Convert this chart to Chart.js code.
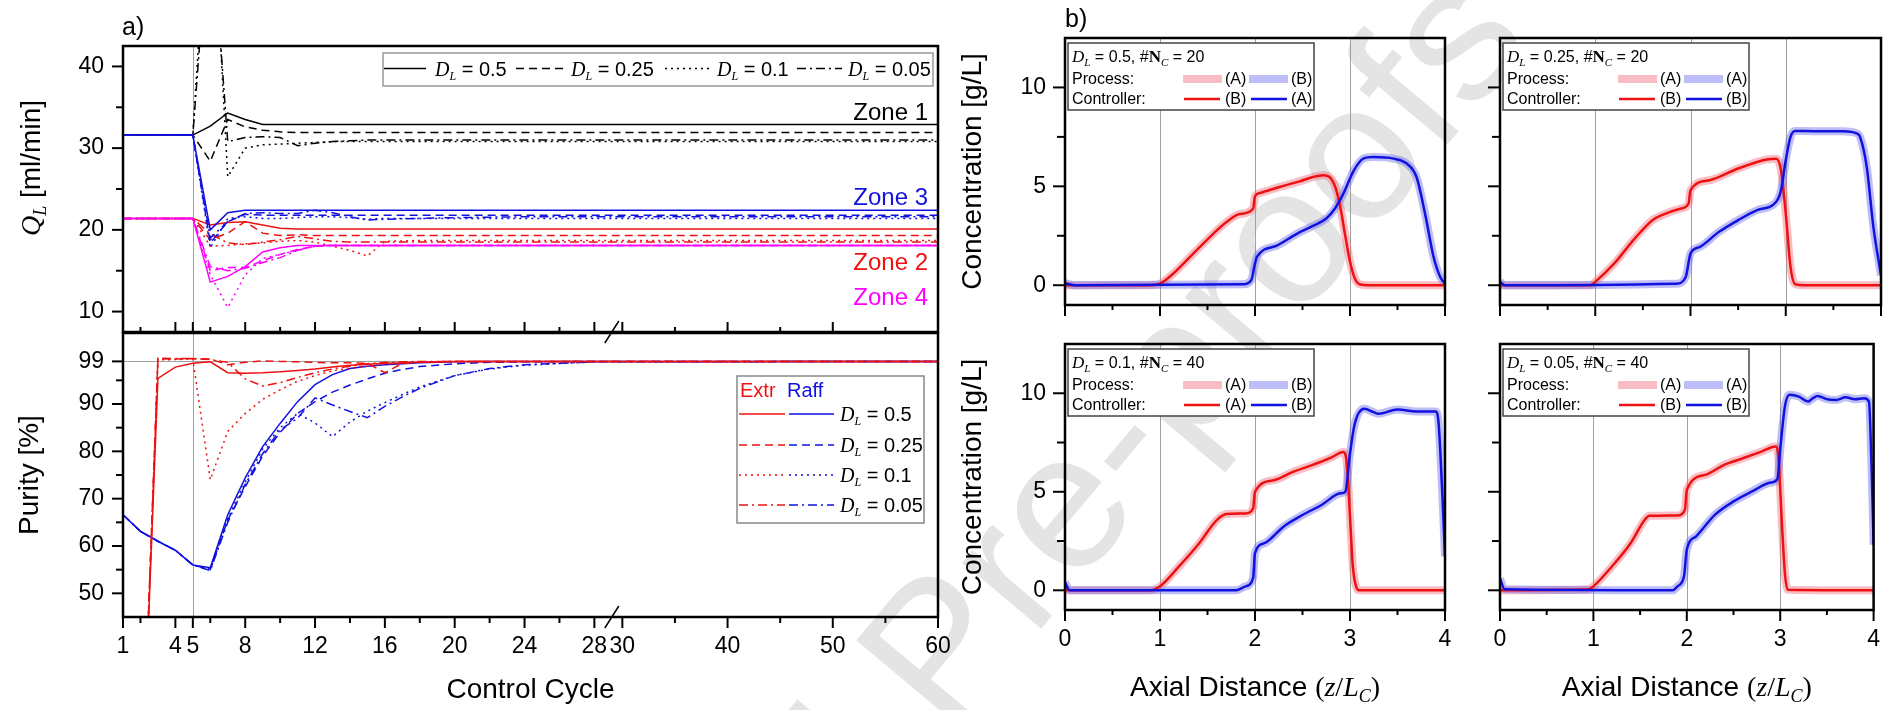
<!DOCTYPE html>
<html>
<head>
<meta charset="utf-8">
<script src="https://cdn.jsdelivr.net/npm/chart.js@4.4.1/dist/chart.umd.min.js"></script>
<style>
  body { margin: 0; background: #fff; }
  #wrap { position: relative; width: 1896px; height: 710px; overflow: hidden; background: #fff; }
  #wrap canvas { position: absolute; left: 0; top: 0; }
</style>
</head>
<body>
<div id="wrap">
  <canvas id="wm" width="1896" height="710"></canvas>
  <canvas id="cQ" width="1896" height="710"></canvas>
  <canvas id="cP" width="1896" height="710"></canvas>
  <canvas id="c1" width="1896" height="710"></canvas>
  <canvas id="c2" width="1896" height="710"></canvas>
  <canvas id="c3" width="1896" height="710"></canvas>
  <canvas id="c4" width="1896" height="710"></canvas>
</div>
<script>
// ---------- a) upper panel: flow rate Q_L per zone ----------
const qCycles = [1, 5, 6, 7, 8, 9, 10, 11, 12, 13, 14, 15, 16, 18, 20, 24, 28, 60];
// zone 1
const z1_05  = [31.6, 31.6, 32.7, 34.3, 33.5, 32.9, 32.9, 32.9, 32.9, 32.9, 32.9, 32.9, 32.9, 32.9, 32.9, 32.9, 32.9, 32.9];
const z1_025 = [31.6, 31.6, 28.4, 33.5, 32.6, 32.2, 32.0, 31.9, 31.9, 31.9, 31.9, 31.9, 31.9, 31.9, 31.9, 31.9, 31.9, 31.9];
const z1_01  = [31.6, 31.6, 66.0, 26.5, 30.0, 30.4, 30.5, 30.6, 30.7, 30.8, 30.8, 30.8, 30.8, 30.8, 30.8, 30.8, 30.8, 30.8];
const z1_005 = [31.6, 31.6, 60.0, 30.8, 31.3, 31.4, 31.3, 30.3, 30.6, 30.8, 30.9, 31.0, 31.0, 31.0, 31.0, 31.0, 31.0, 31.0];
// zone 2
const z2_05  = [21.4, 21.4, 20.6, 20.9, 21.0, 20.6, 20.2, 20.1, 20.1, 20.1, 20.1, 20.1, 20.1, 20.1, 20.1, 20.1, 20.1, 20.1];
const z2_025 = [21.4, 21.4, 18.8, 19.6, 21.0, 19.6, 19.3, 19.4, 19.3, 19.3, 19.3, 19.3, 19.3, 19.3, 19.3, 19.3, 19.3, 19.3];
const z2_01  = [21.4, 21.4, 18.0, 18.1, 18.3, 18.4, 18.6, 18.7, 18.5, 18.0, 17.5, 16.8, 18.6, 18.7, 18.7, 18.7, 18.7, 18.7];
const z2_005 = [21.4, 21.4, 19.5, 18.4, 18.2, 18.5, 18.8, 19.2, 18.9, 18.6, 18.5, 18.5, 18.5, 18.5, 18.5, 18.5, 18.5, 18.5];
// zone 3
const z3_05  = [31.6, 31.6, 20.0, 22.1, 22.4, 22.4, 22.4, 22.4, 22.4, 22.4, 22.4, 22.4, 22.4, 22.4, 22.4, 22.4, 22.4, 22.4];
const z3_025 = [31.6, 31.6, 18.4, 21.0, 21.9, 21.8, 21.8, 21.8, 21.8, 21.8, 21.8, 21.8, 21.8, 21.8, 21.8, 21.8, 21.8, 21.8];
const z3_01  = [31.6, 31.6, 17.8, 21.4, 21.6, 21.4, 21.4, 21.5, 21.6, 21.6, 21.5, 21.3, 21.4, 21.4, 21.4, 21.4, 21.4, 21.4];
const z3_005 = [31.6, 31.6, 19.0, 21.0, 22.0, 22.1, 22.0, 22.0, 22.4, 22.1, 21.6, 21.2, 21.3, 21.4, 21.5, 21.6, 21.6, 21.6];
// zone 4
const z4_05  = [21.4, 21.4, 13.6, 14.3, 15.5, 17.3, 17.8, 18.1, 18.1, 18.1, 18.1, 18.1, 18.1, 18.1, 18.1, 18.1, 18.1, 18.1];
const z4_025 = [21.4, 21.4, 15.0, 15.4, 15.4, 16.2, 17.0, 17.6, 18.0, 18.1, 18.1, 18.1, 18.1, 18.1, 18.1, 18.1, 18.1, 18.1];
const z4_01  = [21.4, 21.4, 14.5, 10.5, 14.5, 16.5, 17.0, 17.5, 18.0, 18.1, 18.1, 18.1, 18.1, 18.1, 18.1, 18.1, 18.1, 18.1];
const z4_005 = [21.4, 21.4, 15.5, 15.0, 15.3, 16.0, 16.6, 17.5, 18.0, 18.1, 18.1, 18.1, 18.1, 18.1, 18.1, 18.1, 18.1, 18.1];

// ---------- a) lower panel: purity ----------
const pCycles = [1, 2, 3, 4, 5, 6, 7, 8, 9, 10, 11, 12, 13, 14, 15, 16, 17, 18, 20, 22, 24, 28, 60];
const extr05  = [0, 0, 95.4, 97.8, 98.6, 98.9, 96.6, 96.5, 96.6, 96.8, 97.1, 97.4, 97.8, 98.2, 98.4, 98.6, 98.7, 98.8, 99.0, 99.0, 99.0, 99.0, 99.0];
const extr025 = [0, 0, 99.6, 99.5, 99.6, 99.5, 98.3, 98.8, 99.1, 99.0, 98.9, 98.8, 98.7, 98.7, 98.6, 96.6, 98.6, 98.9, 99.0, 99.0, 99.0, 99.0, 99.0];
const extr01  = [0, 0, 99.3, 99.4, 99.5, 74.0, 84.2, 88.0, 91.0, 93.0, 94.8, 96.0, 97.0, 97.6, 98.0, 98.4, 98.6, 98.8, 99.0, 99.0, 99.0, 99.0, 99.0];
const extr005 = [0, 0, 99.7, 99.6, 99.6, 99.4, 98.8, 95.3, 93.8, 94.5, 95.6, 96.6, 97.4, 98.0, 98.5, 98.8, 98.9, 99.0, 99.0, 99.0, 99.0, 99.0, 99.0];
const raff05  = [66.6, 63.1, 61.0, 59.1, 56.0, 55.4, 66.6, 74.4, 81.0, 85.9, 90.5, 94.1, 96.2, 97.5, 98.0, 98.3, 98.5, 98.7, 98.9, 99.0, 99.0, 99.0, 99.0];
const raff025 = [66.6, 63.1, 61.0, 59.1, 56.0, 55.0, 65.5, 72.5, 79.0, 84.0, 88.0, 90.5, 92.5, 94.0, 95.3, 96.5, 97.3, 97.9, 98.5, 98.8, 98.9, 99.0, 99.0];
const raff01  = [66.6, 63.1, 61.0, 59.1, 56.0, 55.2, 65.8, 73.5, 80.5, 85.0, 88.0, 86.0, 83.1, 86.2, 88.5, 90.3, 92.0, 93.6, 96.0, 97.4, 98.2, 98.9, 99.0];
const raff005 = [66.6, 63.1, 61.0, 59.1, 56.0, 54.8, 65.0, 73.0, 79.5, 84.5, 87.0, 91.3, 89.8, 88.4, 87.1, 89.5, 91.5, 93.3, 96.0, 97.5, 98.3, 98.9, 99.0];

// axis ticks for a); the cycle axis is broken at 29
const cycleTicks = [1, 4, 5, 8, 12, 16, 20, 24, 28, 30, 40, 50, 60];
const cycleMinor = [2, 6, 10, 14, 18, 22, 26, 35, 45, 55];
const qTicks = [10, 20, 30, 40];
const qMinor = [15, 25, 35];
const purTicks = [50, 60, 70, 80, 90, 99];
const purMinor = [55, 65, 75, 85, 95];
const dlNames = ['0.5', '0.25', '0.1', '0.05'];

// ---------- b) concentration profiles ----------
const zTicks = [0, 1, 2, 3, 4];
const zMinor = [0.5, 1.5, 2.5, 3.5];
const cTicks = [0, 5, 10];
const cMinor = [2.5, 7.5];

const p1RedX  = [0, 0.9, 1.0, 1.14, 1.35, 1.56, 1.7, 1.84, 1.98, 2.0, 2.05, 2.26, 2.47, 2.61, 2.72, 2.8, 2.85, 2.9, 2.95, 3.0, 3.05, 3.1, 3.2, 4.0];
const p1RedY  = [0, 0, 0.08, 0.59, 1.6, 2.6, 3.2, 3.6, 3.87, 4.5, 4.66, 4.97, 5.25, 5.47, 5.56, 5.4, 4.9, 3.9, 2.5, 1.2, 0.35, 0.05, 0, 0];
const p1BlueX = [0, 0.1, 1.88, 1.96, 2.0, 2.02, 2.23, 2.44, 2.61, 2.75, 2.84, 2.93, 3.04, 3.14, 3.25, 3.46, 3.6, 3.7, 3.79, 3.88, 3.95, 4.0];
const p1BlueY = [0.1, 0, 0.05, 0.25, 1.1, 1.43, 2.0, 2.6, 3.0, 3.37, 3.87, 4.63, 5.8, 6.4, 6.48, 6.4, 6.14, 5.47, 3.62, 1.43, 0.42, 0.08];

const p2RedX  = [0, 0.95, 1.0, 1.2, 1.4, 1.6, 1.7, 1.9, 1.98, 2.0, 2.2, 2.5, 2.8, 2.9, 2.95, 3.0, 3.05, 3.1, 3.2, 4.0];
const p2RedY  = [0, 0, 0.17, 1.1, 2.28, 3.29, 3.54, 3.88, 4.13, 4.8, 5.31, 5.9, 6.36, 6.4, 5.82, 3.63, 0.93, 0.05, 0, 0];
const p2BlueX = [0, 0.05, 1.85, 1.95, 2.0, 2.1, 2.3, 2.5, 2.7, 2.9, 2.95, 3.0, 3.05, 3.1, 3.3, 3.6, 3.75, 3.78, 3.85, 3.92, 4.0];
const p2BlueY = [0.17, 0, 0.08, 0.42, 1.6, 1.94, 2.7, 3.29, 3.8, 4.22, 4.8, 6.32, 7.5, 7.8, 7.79, 7.79, 7.67, 7.5, 5.99, 2.95, 0.5];

const p3RedX  = [0, 0.9, 1.0, 1.2, 1.4, 1.6, 1.7, 1.9, 1.98, 2.0, 2.2, 2.4, 2.6, 2.8, 2.93, 2.97, 3.0, 3.03, 3.07, 3.1, 4.0];
const p3RedY  = [0, 0, 0.2, 1.21, 2.31, 3.57, 3.87, 3.9, 4.16, 5.0, 5.59, 6.01, 6.35, 6.73, 7.02, 6.26, 3.74, 1.21, 0.12, 0, 0];
const p3BlueX = [0, 0.05, 1.8, 1.9, 1.98, 2.0, 2.1, 2.3, 2.5, 2.7, 2.9, 2.95, 3.0, 3.05, 3.15, 3.25, 3.3, 3.5, 3.7, 3.9, 3.93, 3.97, 4.0];
const p3BlueY = [0.4, 0, 0, 0.2, 0.62, 1.89, 2.39, 3.23, 3.82, 4.33, 4.92, 5.0, 6.94, 8.45, 9.21, 9.04, 8.96, 9.18, 9.07, 9.07, 8.62, 5.08, 1.72];

const p4RedX  = [0, 0.95, 1.0, 1.2, 1.4, 1.55, 1.6, 1.9, 1.98, 2.0, 2.2, 2.4, 2.6, 2.8, 2.95, 2.98, 3.02, 3.05, 3.08, 4.0];
const p4RedY  = [0, 0.05, 0.2, 1.22, 2.4, 3.58, 3.78, 3.8, 4.09, 5.1, 5.86, 6.37, 6.7, 7.04, 7.3, 6.79, 3.24, 0.88, 0.03, 0];
const p4BlueX = [0, 0.05, 1.85, 1.9, 1.97, 2.0, 2.1, 2.3, 2.5, 2.7, 2.9, 2.97, 3.0, 3.05, 3.1, 3.2, 3.3, 3.35, 3.4, 3.5, 3.6, 3.7, 3.8, 3.9, 3.95, 3.98, 4.0];
const p4BlueY = [0.6, 0.05, 0, 0.2, 0.71, 2.06, 2.74, 3.83, 4.51, 5.02, 5.47, 5.64, 7.13, 9.32, 9.92, 9.83, 9.58, 9.75, 9.86, 9.7, 9.66, 9.8, 9.7, 9.75, 9.58, 5.95, 2.31];

// ---------- styling ----------
const SANS = '"Liberation Sans", Arial, sans-serif';
const SERIF = '"Liberation Serif", "Times New Roman", serif';
const BLACK = '#000000', RED = '#ee1111', BLUE = '#1111e0', MAGENTA = '#ff00ff';
const PROC_RED = 'rgba(240, 110, 125, 0.45)', PROC_BLUE = 'rgba(110, 110, 235, 0.45)';
const DASH = { '0.5': [], '0.25': [8, 5], '0.1': [2, 4], '0.05': [9, 4, 2, 4] };

Chart.defaults.color = '#000';
Chart.defaults.font.family = SANS;

// the cycle axis: 1..29 at full scale, 29..60 squeezed
const BREAK = 29, SQUEEZE = 0.6027;
const brk = v => (v <= BREAK ? v : BREAK + (v - BREAK) * SQUEEZE);

function line(ctx, x1, y1, x2, y2) {
  ctx.beginPath(); ctx.moveTo(x1, y1); ctx.lineTo(x2, y2); ctx.stroke();
}

function richText(ctx, x, y, parts, align) {
  let w = 0;
  parts.forEach(p => { ctx.font = p[1]; w += ctx.measureText(p[0]).width; });
  let cx = align === 'center' ? x - w / 2 : align === 'right' ? x - w : x;
  ctx.textAlign = 'left';
  ctx.textBaseline = 'alphabetic';
  parts.forEach(p => {
    ctx.font = p[1];
    ctx.fillText(p[0], cx, y + (p[2] || 0));
    cx += ctx.measureText(p[0]).width;
  });
}

function dlParts(v, size) {
  return [['D', `italic ${size}px ${SERIF}`, 0],
          ['L', `italic ${Math.round(size * 0.62)}px ${SERIF}`, Math.round(size * 0.22)],
          [' = ' + v, `${size}px ${SANS}`, 0]];
}

function sample(ctx, x1, x2, y, color, dash, width) {
  ctx.save();
  ctx.strokeStyle = color; ctx.lineWidth = width; ctx.setLineDash(dash);
  line(ctx, x1, y, x2, y);
  ctx.restore();
}

function box(ctx, x, y, w, h, color) {
  ctx.save();
  ctx.fillStyle = '#fff'; ctx.fillRect(x, y, w, h);
  ctx.strokeStyle = color; ctx.lineWidth = 1.5; ctx.strokeRect(x, y, w, h);
  ctx.restore();
}

// frame, tick marks, grey guide lines, axis break and free text
function makeDeco(cfg) {
  return {
    id: 'deco',
    beforeDatasetsDraw(chart) {
      const { ctx, chartArea: a, scales } = chart;
      ctx.save();
      ctx.strokeStyle = '#a0a0a0';
      ctx.lineWidth = 1;
      (cfg.vGrid || []).forEach(v => {
        const px = Math.round(scales.x.getPixelForValue(v)) + 0.5;
        line(ctx, px, a.top, px, a.bottom);
      });
      (cfg.hGrid || []).forEach(v => {
        const py = Math.round(scales.y.getPixelForValue(v)) + 0.5;
        line(ctx, a.left, py, a.right, py);
      });
      ctx.restore();
    },
    afterDraw(chart) {
      const { ctx, chartArea: a, scales } = chart;
      ctx.save();
      ctx.strokeStyle = '#000';
      ctx.lineWidth = 2;
      const xt = cfg.xTicks, yt = cfg.yTicks;
      if (xt) {
        [[xt.major, xt.len[0]], [xt.minor, xt.len[1]]].forEach(([vals, len]) => vals.forEach(v => {
          const px = scales.x.getPixelForValue(v);
          line(ctx, px, a.bottom, px, a.bottom + xt.dir * len);
        }));
      }
      if (yt) {
        [[yt.major, yt.len[0]], [yt.minor, yt.len[1]]].forEach(([vals, len]) => vals.forEach(v => {
          const py = scales.y.getPixelForValue(v);
          line(ctx, a.left - len, py, a.left, py);
        }));
      }
      ctx.lineWidth = 2.5;
      ctx.strokeRect(a.left, a.top, a.right - a.left, a.bottom - a.top);
      if (cfg.breakX !== undefined) {
        const px = scales.x.getPixelForValue(cfg.breakX);
        ctx.lineWidth = 1.5;
        line(ctx, px - 7, a.bottom + 11, px + 7, a.bottom - 11);
      }
      if (cfg.extra) cfg.extra(ctx, a, chart);
      ctx.restore();
    }
  };
}

function common(pad, scales) {
  return {
    responsive: false,
    animation: false,
    events: [],
    layout: { padding: pad },
    plugins: { legend: { display: false }, tooltip: { enabled: false } },
    scales
  };
}

function yAxis(min, max, vals, width, title, titlePad) {
  return {
    type: 'linear', min, max,
    afterBuildTicks: s => { s.ticks = vals.map(v => ({ value: v })); },
    afterFit: s => { s.width = width; },
    grid: { display: false, drawTicks: false },
    border: { display: false },
    ticks: { padding: 19, autoSkip: false, color: '#000', font: { family: SANS, size: 23 } },
    title: title
      ? { display: true, text: title, color: '#000', font: { family: SANS, size: 28 }, padding: { top: titlePad, bottom: 0 } }
      : { display: false }
  };
}

function xAxis(min, max, vals, labels, height, title) {
  return {
    type: 'linear', min, max,
    afterBuildTicks: s => { s.ticks = vals.map(v => ({ value: v })); },
    afterFit: s => { s.height = height; },
    grid: { display: false, drawTicks: false },
    border: { display: false },
    ticks: {
      padding: 16, autoSkip: false, maxRotation: 0, minRotation: 0,
      color: '#000', font: { family: SANS, size: 23 },
      callback: (v, i) => labels[i]
    },
    title: title
      ? { display: true, text: title, color: '#000', font: { family: SANS, size: 28 }, padding: { top: 0, bottom: 3 } }
      : { display: false }
  };
}

function cycleSeries(xs, ys, color, dash) {
  return {
    data: xs.map((x, i) => ({ x: brk(x), y: ys[i] })),
    borderColor: color, borderWidth: 1.5, borderDash: dash,
    pointRadius: 0, tension: 0, fill: false
  };
}

function profile(xs, ys, color, width) {
  return {
    data: xs.map((x, i) => ({ x, y: ys[i] })),
    borderColor: color, borderWidth: width,
    pointRadius: 0, cubicInterpolationMode: 'monotone', fill: false
  };
}

// ---------- watermark ----------
(function () {
  const ctx = document.getElementById('wm').getContext('2d');
  ctx.translate(1070, 515);
  ctx.rotate(-50 * Math.PI / 180);
  ctx.font = '195px ' + SANS;
  ctx.fillStyle = '#e4e4e4';
  const pre = ctx.measureText('Journal Pr').width, ew = ctx.measureText('e').width;
  ctx.fillText('Journal Pre-proofs', -pre - ew / 2, 51);
})();

// ---------- a) upper: Q_L ----------
const qSets = [];
[[MAGENTA, [z4_05, z4_025, z4_01, z4_005]],
 [BLUE, [z3_05, z3_025, z3_01, z3_005]],
 [RED, [z2_05, z2_025, z2_01, z2_005]],
 [BLACK, [z1_05, z1_025, z1_01, z1_005]]].forEach(([c, arr]) =>
  arr.forEach((ys, i) => qSets.push(cycleSeries(qCycles, ys, c, DASH[dlNames[i]]))));

new Chart(document.getElementById('cQ'), {
  type: 'line',
  data: { datasets: qSets },
  options: common({ left: 0, top: 46, right: 958, bottom: 378 }, {
    x: { type: 'linear', display: false, min: brk(1), max: brk(60) },
    y: yAxis(7.5, 42.5, qTicks, 123, null, 0)
  }),
  plugins: [makeDeco({
    vGrid: [brk(5)],
    xTicks: { major: cycleTicks.map(brk), minor: cycleMinor.map(brk), dir: -1, len: [10, 5] },
    yTicks: { major: qTicks, minor: qMinor, len: [11, 7] },
    breakX: brk(29),
    extra(ctx) {
      ctx.fillStyle = '#000';
      ctx.font = `25px ${SANS}`;
      ctx.textAlign = 'left';
      ctx.fillText('a)', 122, 35);
      // rotated y title
      ctx.save();
      ctx.translate(40, 168);
      ctx.rotate(-Math.PI / 2);
      richText(ctx, 0, 0, [['Q', `italic 28px ${SERIF}`, 0], ['L', `italic 18px ${SERIF}`, 6], [' [ml/min]', `28px ${SANS}`, 0]], 'center');
      ctx.restore();
      // legend
      box(ctx, 383, 53, 550, 33, '#999');
      const pos = [[384, 426, 435], [516, 563, 571], [665, 710, 717], [797, 842, 848]];
      dlNames.forEach((n, i) => {
        sample(ctx, pos[i][0], pos[i][1], 68.5, BLACK, DASH[n], 1.5);
        ctx.fillStyle = '#000';
        richText(ctx, pos[i][2], 76, dlParts(n, 20));
      });
      // zone labels
      [['Zone 1', BLACK, 120], ['Zone 3', BLUE, 205], ['Zone 2', RED, 270], ['Zone 4', MAGENTA, 305]].forEach(([t, c, y]) => {
        ctx.fillStyle = c;
        ctx.font = `24px ${SANS}`;
        ctx.textAlign = 'right';
        ctx.fillText(t, 928, y);
      });
    }
  })]
});

// ---------- a) lower: purity ----------
const pSets = [];
[[RED, [extr05, extr025, extr01, extr005]],
 [BLUE, [raff05, raff025, raff01, raff005]]].forEach(([c, arr]) =>
  arr.forEach((ys, i) => pSets.push(cycleSeries(pCycles, ys, c, DASH[dlNames[i]]))));

new Chart(document.getElementById('cP'), {
  type: 'line',
  data: { datasets: pSets },
  options: common({ left: 0, top: 333, right: 958, bottom: 0 }, {
    x: xAxis(brk(1), brk(60), cycleTicks.map(brk), cycleTicks.map(String), 93, 'Control Cycle'),
    y: yAxis(45, 105, purTicks, 123, 'Purity [%]', 13)
  }),
  plugins: [makeDeco({
    vGrid: [brk(5)],
    hGrid: [99],
    xTicks: { major: cycleTicks.map(brk), minor: cycleMinor.map(brk), dir: 1, len: [11, 6] },
    yTicks: { major: purTicks, minor: purMinor, len: [11, 7] },
    breakX: brk(29),
    extra(ctx) {
      box(ctx, 737, 376, 187, 147, '#888');
      ctx.font = `20px ${SANS}`;
      ctx.textAlign = 'left';
      ctx.fillStyle = RED; ctx.fillText('Extr', 740, 397);
      ctx.fillStyle = BLUE; ctx.fillText('Raff', 787, 397);
      [414, 445, 475, 505].forEach((y, i) => {
        const d = DASH[dlNames[i]];
        sample(ctx, 739, 785, y, RED, d, 1.5);
        sample(ctx, 789, 834, y, BLUE, d, 1.5);
        ctx.fillStyle = '#000';
        richText(ctx, 840, y + 7, dlParts(dlNames[i], 20));
      });
    }
  })]
});

// ---------- b) concentration panels ----------
function legendB(ctx, a, dl, nc, proc, ctrl) {
  const x0 = a.left, y0 = a.top;
  box(ctx, x0 + 3, y0 + 5, 246, 67, '#444');
  ctx.fillStyle = '#000';
  richText(ctx, x0 + 7, y0 + 23.5, [['D', `italic 17px ${SERIF}`], ['L', `italic 11px ${SERIF}`, 4],
    [` = ${dl}, #`, `16px ${SANS}`], ['N', `bold 17px ${SERIF}`], ['C', `italic 11px ${SERIF}`, 4], [` = ${nc}`, `16px ${SANS}`]]);
  ctx.font = `16px ${SANS}`;
  ctx.textAlign = 'left';
  ctx.fillText('Process:', x0 + 7, y0 + 46);
  ctx.fillText('Controller:', x0 + 7, y0 + 66);
  sample(ctx, x0 + 118, x0 + 157, y0 + 41, PROC_RED, [], 8);
  sample(ctx, x0 + 184, x0 + 223, y0 + 41, PROC_BLUE, [], 8);
  sample(ctx, x0 + 119, x0 + 155, y0 + 61, RED, [], 2.5);
  sample(ctx, x0 + 186, x0 + 222, y0 + 61, BLUE, [], 2.5);
  ctx.fillStyle = '#000';
  ctx.font = `16px ${SANS}`;
  ctx.fillText(proc[0], x0 + 160, y0 + 46);
  ctx.fillText(proc[1], x0 + 226, y0 + 46);
  ctx.fillText(ctrl[0], x0 + 160, y0 + 66);
  ctx.fillText(ctrl[1], x0 + 226, y0 + 66);
}

function axialTitle(ctx, a) {
  ctx.fillStyle = '#000';
  richText(ctx, (a.left + a.right) / 2, 696, [['Axial Distance ', `28px ${SANS}`], ['(', `28px ${SERIF}`],
    ['z', `italic 28px ${SERIF}`], ['/', `28px ${SERIF}`], ['L', `italic 28px ${SERIF}`],
    ['C', `italic 18px ${SERIF}`, 6], [')', `28px ${SERIF}`]], 'center');
}

function concChart(id, pad, rx, ry, bx, by, withY, withX, extra) {
  new Chart(document.getElementById(id), {
    type: 'line',
    data: {
      datasets: [
        profile(bx, by, BLUE, 2.5),
        profile(rx, ry, RED, 2.5),
        profile(bx, by, PROC_BLUE, 8),
        profile(rx, ry, PROC_RED, 8)
      ]
    },
    options: common(pad, {
      x: withX ? xAxis(0, 4, zTicks, zTicks.map(String), 100, null)
               : { type: 'linear', display: false, min: 0, max: 4 },
      y: withY ? yAxis(-1, 12.5, cTicks, 110, 'Concentration [g/L]', 1)
               : { type: 'linear', display: false, min: -1, max: 12.5 }
    }),
    plugins: [makeDeco({
      vGrid: [1, 2, 3],
      xTicks: { major: zTicks, minor: zMinor, dir: 1, len: [11, 5] },
      yTicks: { major: cTicks, minor: cMinor, len: [12, 8] },
      extra
    })]
  });
}

concChart('c1', { left: 955, top: 38, right: 451, bottom: 405 }, p1RedX, p1RedY, p1BlueX, p1BlueY, true, false,
  (ctx, a) => {
    ctx.fillStyle = '#000'; ctx.font = `25px ${SANS}`; ctx.textAlign = 'left';
    ctx.fillText('b)', 1065, 27);
    legendB(ctx, a, '0.5', 20, ['(A)', '(B)'], ['(B)', '(A)']);
  });
concChart('c2', { left: 1500, top: 38, right: 15, bottom: 405 }, p2RedX, p2RedY, p2BlueX, p2BlueY, false, false,
  (ctx, a) => legendB(ctx, a, '0.25', 20, ['(A)', '(A)'], ['(B)', '(B)']));
concChart('c3', { left: 955, top: 344, right: 451, bottom: 0 }, p3RedX, p3RedY, p3BlueX, p3BlueY, true, true,
  (ctx, a) => { legendB(ctx, a, '0.1', 40, ['(A)', '(B)'], ['(A)', '(B)']); axialTitle(ctx, a); });
concChart('c4', { left: 1500, top: 344, right: 15, bottom: 0 }, p4RedX, p4RedY, p4BlueX, p4BlueY, false, true,
  (ctx, a) => { legendB(ctx, a, '0.05', 40, ['(A)', '(A)'], ['(B)', '(B)']); axialTitle(ctx, a); });
</script>
</body>
</html>
